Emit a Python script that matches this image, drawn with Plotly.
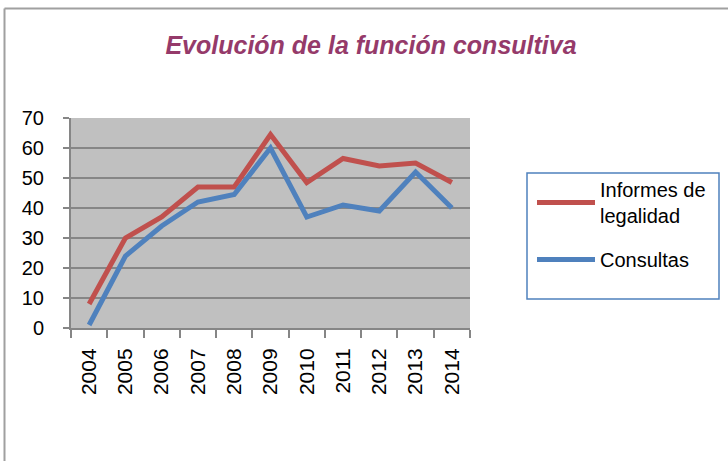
import plotly.graph_objects as go

years = ["2004", "2005", "2006", "2007", "2008", "2009", "2010", "2011", "2012", "2013", "2014"]
informes = [8, 30, 37, 47, 47, 64.5, 48.5, 56.5, 54, 55, 48.5]
consultas = [1, 24, 34, 42, 44.5, 60, 37, 41, 39, 52, 40]
series_names = ["Informes de<br>legalidad", "Consultas"]
title_text = "Evolución de la función consultiva"
y_ticks = [0, 10, 20, 30, 40, 50, 60, 70]

W, H = 728, 461
L, R, T, B = 71, 258, 118, 133
pw, ph = W - L - R, H - T - B

def px(x):
    return (x - L) / pw

def py(y):
    return (H - B - y) / ph

FONT = "Liberation Sans, Arial, sans-serif"

fig = go.Figure()
fig.add_trace(go.Scatter(x=years, y=informes, mode="lines", name=series_names[0],
                         legendgroup="a",
                         line=dict(color="#C0504D", width=5)))
fig.add_trace(go.Scatter(x=years, y=consultas, mode="lines", name=series_names[1],
                         legendgroup="b",
                         line=dict(color="#4F81BD", width=5)))

fig.update_layout(
    width=W, height=H,
    margin=dict(l=L, r=R, t=T, b=B, pad=0),
    paper_bgcolor="white",
    plot_bgcolor="#C0C0C0",
    font=dict(family=FONT, color="black", size=20),
    title=dict(text="<b><i>" + title_text + "</i></b>", x=371 / W, xanchor="center",
               y=1 - 45 / H, yanchor="middle",
               font=dict(size=25, color="#953A6A", family=FONT)),
    xaxis=dict(type="category", tickson="boundaries", ticks="outside", ticklen=8,
               tickcolor="#868686", tickwidth=2, showline=True, linecolor="#868686",
               linewidth=2, showgrid=False, tickangle=-90, tickfont=dict(size=21),
               ticklabelstandoff=10, range=[-0.5, 10.5]),
    yaxis=dict(range=[0, 70], tickvals=y_ticks, ticks="outside", ticklen=6,
               tickcolor="#868686", tickwidth=2, showline=True, linecolor="#868686",
               linewidth=2, gridcolor="#868686", gridwidth=2, zeroline=False,
               tickfont=dict(size=20), ticklabelstandoff=15),
    legend=dict(x=px(532), y=py(170), xanchor="left", yanchor="top",
                bgcolor="rgba(0,0,0,0)", borderwidth=0, traceorder="grouped",
                font=dict(size=20), tracegroupgap=15, itemwidth=58),
    showlegend=True,
    shapes=[
        dict(type="rect", xref="paper", yref="paper",
             x0=px(527), x1=px(719), y0=py(173), y1=py(299),
             line=dict(color="#4F81BD", width=1.5), fillcolor="rgba(0,0,0,0)"),
        dict(type="line", xref="paper", yref="paper",
             x0=px(4.5), x1=px(740), y0=py(8.5), y1=py(8.5),
             line=dict(color="#A0A0A0", width=2)),
        dict(type="line", xref="paper", yref="paper",
             x0=px(4.5), x1=px(4.5), y0=py(8.5), y1=py(470),
             line=dict(color="#A0A0A0", width=2)),
    ],
)

fig.write_html("out.html", config={"displayModeBar": False},
               post_script="document.body.style.margin='0px';")
